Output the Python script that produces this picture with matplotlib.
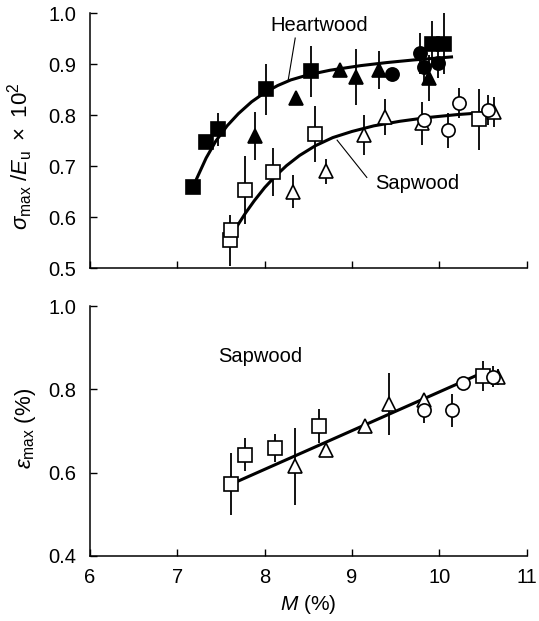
import matplotlib
matplotlib.use("Agg")
import matplotlib.pyplot as plt

plt.rcParams["font.family"] = ["Liberation Sans", "DejaVu Sans"]
plt.rcParams["mathtext.fontset"] = "custom"
plt.rcParams["mathtext.rm"] = "Liberation Sans"
plt.rcParams["mathtext.it"] = "Liberation Sans:italic"
plt.rcParams["mathtext.bf"] = "Liberation Sans:bold"

# ---- top panel: sigma_max / E_u x 10^2 ----
# heartwood (filled)
hw_sq_x = [7.18, 7.33, 7.47, 8.01, 8.53, 9.92, 10.05]
hw_sq_y = [0.660, 0.748, 0.772, 0.851, 0.886, 0.940, 0.940]
hw_sq_e = [0.0, 0.012, 0.033, 0.050, 0.050, 0.045, 0.060]
hw_tri_x = [7.89, 8.36, 8.86, 9.05, 9.31, 9.88]
hw_tri_y = [0.760, 0.833, 0.888, 0.875, 0.888, 0.873]
hw_tri_e = [0.047, 0.0, 0.0, 0.055, 0.037, 0.045]
hw_cir_x = [9.46, 9.78, 9.83, 9.99]
hw_cir_y = [0.880, 0.921, 0.894, 0.902]
hw_cir_e = [0.0, 0.040, 0.035, 0.030]
# sapwood (open)
sw_sq_x = [7.60, 7.62, 7.77, 8.10, 8.58, 10.46]
sw_sq_y = [0.555, 0.575, 0.653, 0.688, 0.763, 0.792]
sw_sq_e = [0.050, 0.0, 0.067, 0.047, 0.055, 0.060]
sw_tri_x = [8.33, 8.70, 9.14, 9.38, 9.80, 10.63]
sw_tri_y = [0.650, 0.690, 0.761, 0.796, 0.784, 0.806]
sw_tri_e = [0.032, 0.025, 0.040, 0.035, 0.042, 0.030]
sw_cir_x = [9.82, 10.10, 10.23, 10.56]
sw_cir_y = [0.790, 0.770, 0.824, 0.810]
sw_cir_e = [0.0, 0.035, 0.030, 0.030]
# fitted curves
hw_fit_x = [7.22, 7.33, 7.44, 7.57, 7.70, 7.85, 8.00, 8.15, 8.30, 8.50,
            8.75, 9.10, 9.40, 9.70, 10.14]
hw_fit_y = [0.675, 0.716, 0.749, 0.779, 0.803, 0.826, 0.844, 0.858, 0.869, 0.879,
            0.888, 0.897, 0.903, 0.908, 0.914]
sw_fit_x = [7.69, 7.78, 7.88, 8.00, 8.12, 8.25, 8.40, 8.58, 8.78, 9.00,
            9.25, 9.55, 9.85, 10.20, 10.60]
sw_fit_y = [0.584, 0.608, 0.632, 0.658, 0.680, 0.701, 0.721, 0.740, 0.756, 0.768,
            0.779, 0.788, 0.795, 0.801, 0.806]

# ---- bottom panel: epsilon_max (%) , sapwood ----
eb_sq_x = [7.61, 7.78, 8.12, 8.62, 10.50]
eb_sq_y = [0.572, 0.643, 0.659, 0.712, 0.832]
eb_sq_e = [0.074, 0.040, 0.033, 0.040, 0.035]
eb_tri_x = [8.35, 8.70, 9.15, 9.42, 9.83, 10.67]
eb_tri_y = [0.615, 0.655, 0.713, 0.765, 0.775, 0.830]
eb_tri_e = [0.092, 0.0, 0.0, 0.075, 0.0, 0.020]
eb_cir_x = [9.82, 10.14, 10.27, 10.62]
eb_cir_y = [0.750, 0.750, 0.815, 0.830]
eb_cir_e = [0.030, 0.040, 0.0, 0.025]
eb_fit_x = [7.68, 10.55]
eb_fit_y = [0.578, 0.845]

x_ticks = [6, 7, 8, 9, 10, 11]


def pts(ax, x, y, e, marker, filled):
    ax.errorbar(x, y, yerr=e, fmt="none", ecolor="black", elinewidth=1.3,
                capsize=0, zorder=2)
    ax.plot(x, y, linestyle="none", marker=marker, markersize=9.5,
            markerfacecolor="black" if filled else "white",
            markeredgecolor="black", markeredgewidth=1.2, zorder=3)


def style(ax):
    for sp in ("top", "right"):
        ax.spines[sp].set_visible(False)
    for sp in ("left", "bottom"):
        ax.spines[sp].set_linewidth(1.1)
    ax.tick_params(direction="in", length=5, width=1, labelsize=14.5)
    ax.tick_params(axis="y", pad=10)
    ax.tick_params(axis="x", pad=9)
    ax.set_xlim(6, 11)
    ax.set_xticks(x_ticks)


fig = plt.figure(figsize=(5.39, 6.21), dpi=100)
ax1 = fig.add_axes([0.167, 0.568, 0.81, 0.411])
ax2 = fig.add_axes([0.167, 0.105, 0.81, 0.402])

# top
ax1.plot(hw_fit_x, hw_fit_y, color="black", linewidth=2.2, zorder=1)
ax1.plot(sw_fit_x, sw_fit_y, color="black", linewidth=2.2, zorder=1)
pts(ax1, hw_sq_x, hw_sq_y, hw_sq_e, "s", True)
pts(ax1, hw_tri_x, hw_tri_y, hw_tri_e, "^", True)
pts(ax1, hw_cir_x, hw_cir_y, hw_cir_e, "o", True)
pts(ax1, sw_sq_x, sw_sq_y, sw_sq_e, "s", False)
pts(ax1, sw_tri_x, sw_tri_y, sw_tri_e, "^", False)
pts(ax1, sw_cir_x, sw_cir_y, sw_cir_e, "o", False)
# labels with leader lines
ax1.text(8.63, 0.976, "Heartwood", ha="center", va="center", fontsize=14.5)
ax1.plot([8.35, 8.27], [0.951, 0.869], color="black", linewidth=0.8)
ax1.text(9.75, 0.667, "Sapwood", ha="center", va="center", fontsize=14.5)
ax1.plot([9.17, 8.83], [0.678, 0.751], color="black", linewidth=0.8)
style(ax1)
ax1.set_ylim(0.5, 1.0)
ax1.set_yticks([0.5, 0.6, 0.7, 0.8, 0.9, 1.0])
ax1.set_yticklabels(["0.5", "0.6", "0.7", "0.8", "0.9", "1.0"])
ax1.set_xticklabels([])
ax1.set_ylabel(r"$\sigma_{\rm max}\ /E_{\rm u}\ \times\ 10^2$", fontsize=16)
ax1.yaxis.set_label_coords(-0.125, 0.44)

# bottom
ax2.plot(eb_fit_x, eb_fit_y, color="black", linewidth=2.2, zorder=1)
pts(ax2, eb_sq_x, eb_sq_y, eb_sq_e, "s", False)
pts(ax2, eb_tri_x, eb_tri_y, eb_tri_e, "^", False)
pts(ax2, eb_cir_x, eb_cir_y, eb_cir_e, "o", False)
ax2.text(7.95, 0.878, "Sapwood", ha="center", va="center", fontsize=14.5)
style(ax2)
ax2.set_ylim(0.4, 1.0)
ax2.set_yticks([0.4, 0.6, 0.8, 1.0])
ax2.set_yticklabels(["0.4", "0.6", "0.8", "1.0"])
ax2.set_xticklabels([str(t) for t in x_ticks])
ax2.set_ylabel(r"$\varepsilon_{\rm max}$ (%)", fontsize=16)
ax2.yaxis.set_label_coords(-0.12, 0.51)
ax2.set_xlabel(r"$M$ (%)", fontsize=15, labelpad=4)

fig.savefig("out.png", dpi=100)
